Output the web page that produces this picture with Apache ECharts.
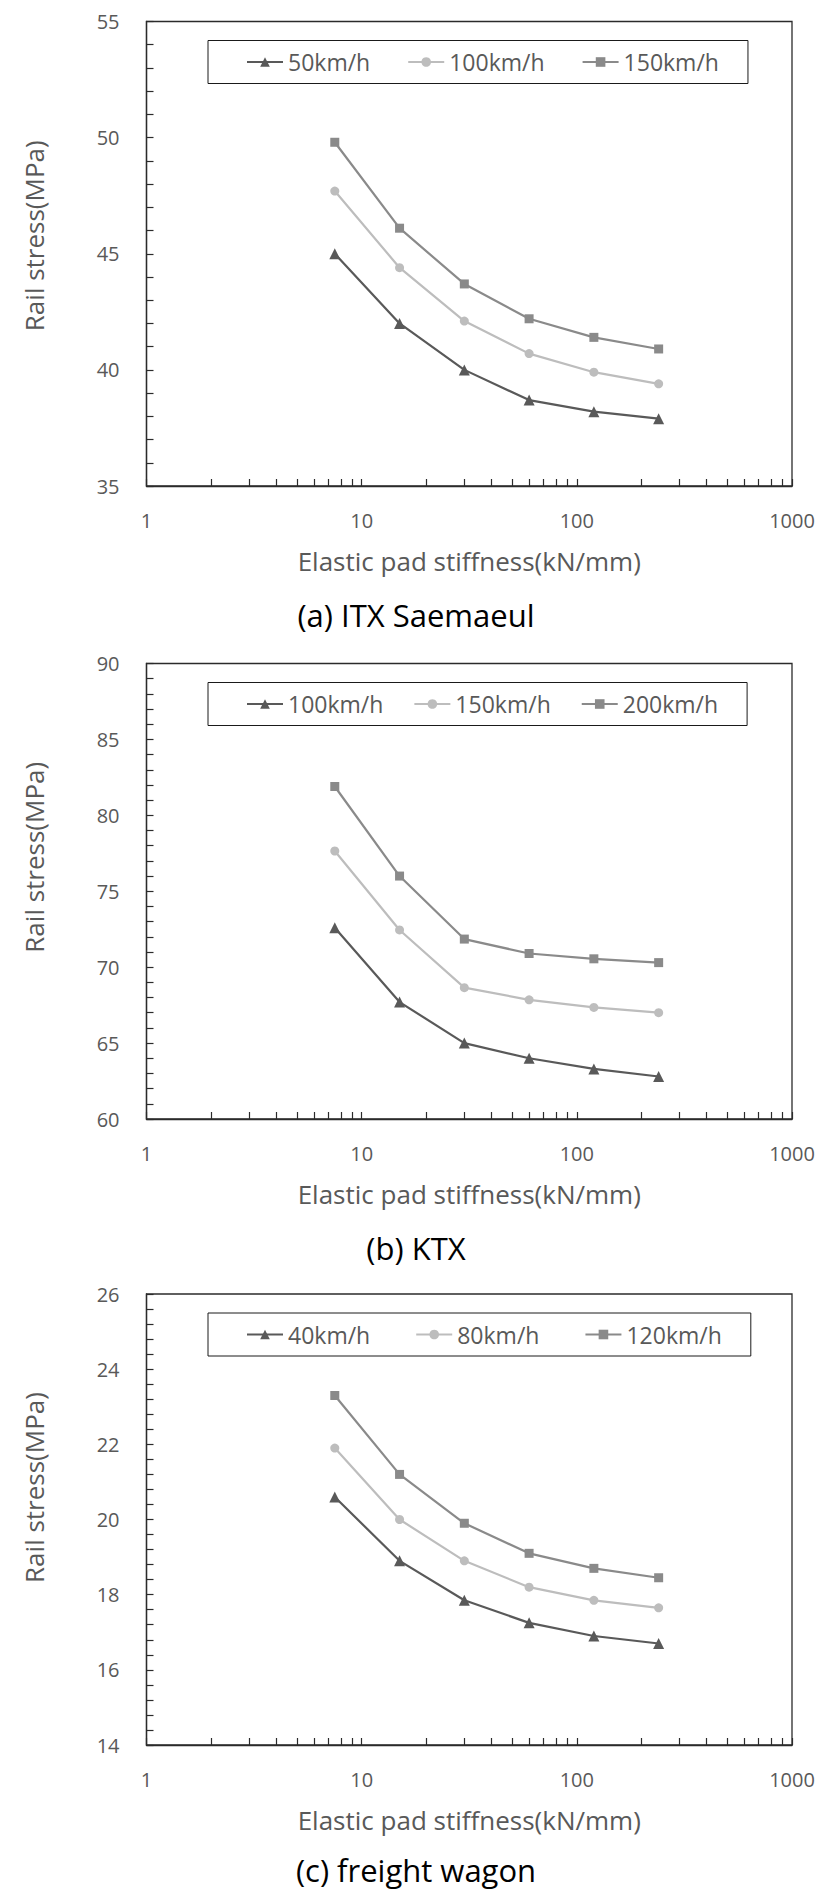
<!DOCTYPE html>
<html>
<head>
<meta charset="utf-8">
<script src="https://cdn.jsdelivr.net/npm/echarts@6/dist/echarts.min.js"></script>
<style>
  html, body { margin: 0; padding: 0; background: #fff; }
  body { width: 832px; height: 1891px; position: relative; overflow: hidden; }
  .c { position: absolute; left: 0; width: 832px; }
</style>
</head>
<body>
<div id="ca" class="c" style="top:0px;height:660px"></div>
<div id="cb" class="c" style="top:640px;height:640px"></div>
<div id="cc" class="c" style="top:1260px;height:631px"></div>
<script>
// ---- data ----
const stiffness = [7.5, 15, 30, 60, 120, 240];

const itxNames = ['50km/h', '100km/h', '150km/h'];
const itx50  = [45.0, 42.0, 40.0, 38.7, 38.2, 37.9];
const itx100 = [47.7, 44.4, 42.1, 40.7, 39.9, 39.4];
const itx150 = [49.8, 46.1, 43.7, 42.2, 41.4, 40.9];

const ktxNames = ['100km/h', '150km/h', '200km/h'];
const ktx100 = [72.6, 67.7, 65.0, 64.0, 63.3, 62.8];
const ktx150 = [77.65, 72.45, 68.65, 67.85, 67.35, 67.0];
const ktx200 = [81.9, 76.0, 71.85, 70.9, 70.55, 70.3];

const fwNames = ['40km/h', '80km/h', '120km/h'];
const fw40  = [20.6, 18.9, 17.85, 17.25, 16.9, 16.7];
const fw80  = [21.9, 20.0, 18.9, 18.2, 17.85, 17.65];
const fw120 = [23.3, 21.2, 19.9, 19.1, 18.7, 18.45];

const captions = ['(a) ITX Saemaeul', '(b) KTX', '(c) freight wagon'];
const xTitle = 'Elastic pad stiffness(kN/mm)';
const yTitle = 'Rail stress(MPa)';

// ---- styles ----
const FONT = '"Open Sans", "Noto Sans", sans-serif';
const TXT = '#595959';
const AX = '#2b2b2b';
const seriesStyles = [
  { color: '#595959', symbol: 'triangle', size: 11 },
  { color: '#bdbdbd', symbol: 'circle', size: 9 },
  { color: '#8a8a8a', symbol: 'rect', size: 9 }
];

function build(el, cfg) {
  const chart = echarts.init(document.getElementById(el), null, { renderer: 'svg' });
  const series = cfg.values.map((vals, i) => ({
    name: cfg.names[i],
    type: 'line',
    data: stiffness.map((x, j) => [x, vals[j]]),
    symbol: seriesStyles[i].symbol,
    symbolSize: seriesStyles[i].size,
    itemStyle: { color: seriesStyles[i].color },
    lineStyle: { color: seriesStyles[i].color, width: 2.2 },
    emphasis: { disabled: true },
    z: 3 + i
  }));
  chart.setOption({
    animation: false,
    backgroundColor: 'transparent',
    textStyle: { fontFamily: FONT },
    title: {
      text: cfg.caption,
      left: 'center',
      top: cfg.capTop,
      textStyle: { fontFamily: FONT, fontSize: 31, fontWeight: 'normal', color: '#000' }
    },
    legend: {
      data: cfg.names,
      left: 208,
      top: cfg.gridTop + 19,
      orient: 'horizontal',
      backgroundColor: '#fff',
      borderColor: '#1a1a1a',
      borderWidth: 1,
      padding: [10, 29, 10, 38],
      itemWidth: 36,
      itemHeight: 12,
      itemGap: cfg.legendGap,
      itemTextGap: 5,
      textStyle: { fontFamily: FONT, fontSize: 23, color: TXT },
      selectedMode: false
    },
    grid: {
      left: 146.5,
      width: 645.5,
      top: cfg.gridTop,
      height: cfg.gridHeight,
      show: true,
      borderColor: AX,
      borderWidth: 1.3,
      backgroundColor: 'transparent'
    },
    xAxis: {
      type: 'log',
      logBase: 10,
      min: 1,
      max: 1000,
      name: xTitle,
      nameLocation: 'middle',
      nameGap: 62,
      nameTextStyle: { fontFamily: FONT, fontSize: 26, color: TXT },
      axisLine: { lineStyle: { color: AX, width: 1.3 } },
      axisTick: { show: true, inside: true, length: 7, lineStyle: { color: AX, width: 1.2 } },
      minorTick: { show: true, splitNumber: 9, length: 7, lineStyle: { color: AX, width: 1.2 } },
      axisLabel: { fontFamily: FONT, fontSize: 20, color: TXT, margin: 24,
                   formatter: v => String(Math.round(v)) },
      splitLine: { show: false },
      minorSplitLine: { show: false }
    },
    yAxis: {
      type: 'value',
      min: cfg.yMin,
      max: cfg.yMax,
      interval: cfg.yInt,
      name: yTitle,
      nameLocation: 'middle',
      nameGap: 100,
      nameTextStyle: { fontFamily: FONT, fontSize: 26, color: TXT, padding: [0, 0, 0, cfg.yShift * 2] },
      axisLine: { show: true, lineStyle: { color: AX, width: 1.3 } },
      axisTick: { show: true, inside: true, length: 7, lineStyle: { color: AX, width: 1.2 } },
      minorTick: { show: true, splitNumber: 5, length: 7, lineStyle: { color: AX, width: 1.2 } },
      axisLabel: { fontFamily: FONT, fontSize: 20, color: TXT, margin: 27 },
      splitLine: { show: false },
      minorSplitLine: { show: false }
    },
    series: series
  });
}

build('ca', { names: itxNames, values: [itx50, itx100, itx150], caption: captions[0],
  gridTop: 21.5, gridHeight: 464.5, yMin: 35, yMax: 55, yInt: 5, capTop: 594,
  legendGap: 37, yShift: 18 });
build('cb', { names: ktxNames, values: [ktx100, ktx150, ktx200], caption: captions[1],
  gridTop: 23.5, gridHeight: 455.5, yMin: 60, yMax: 90, yInt: 5, capTop: 587,
  legendGap: 30, yShift: 34 });
build('cc', { names: fwNames, values: [fw40, fw80, fw120], caption: captions[2],
  gridTop: 34, gridHeight: 451, yMin: 14, yMax: 26, yInt: 2, capTop: 589,
  legendGap: 45, yShift: 32 });
</script>
</body>
</html>
